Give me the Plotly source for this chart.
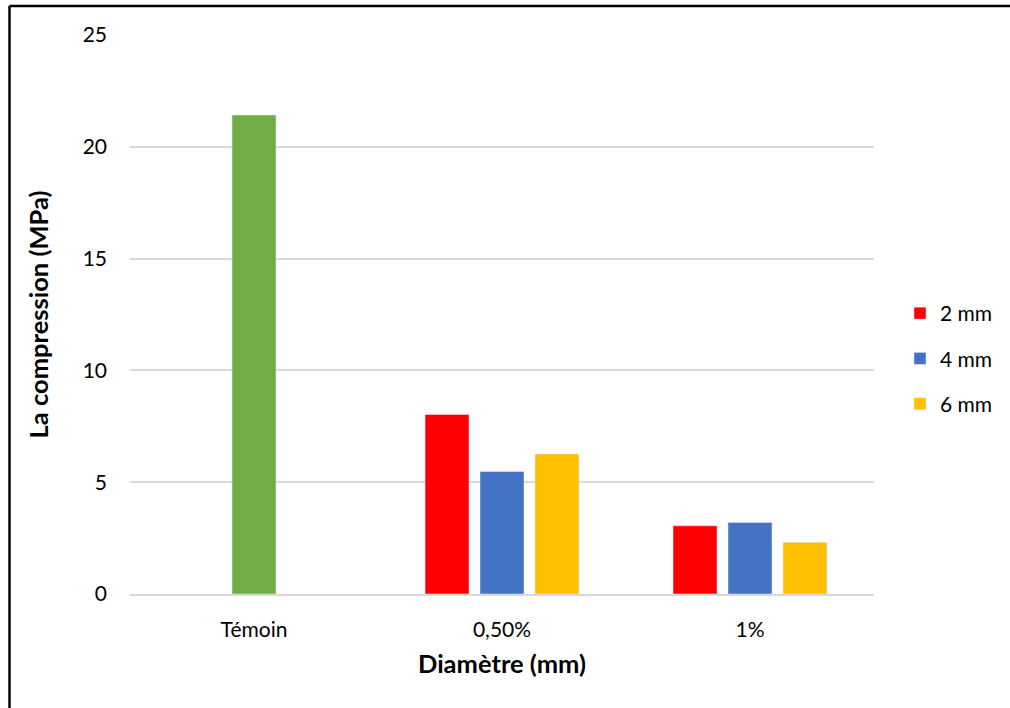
import plotly.graph_objects as go

# Categories and measured compressive strength (MPa)
categories = ["Témoin", "0,50%", "1%"]
control_value = [21.42, None, None]
strength_2mm = [None, 8.03, 3.05]
strength_4mm = [None, 5.48, 3.20]
strength_6mm = [None, 6.26, 2.31]
series_names = ["2 mm", "4 mm", "6 mm"]
y_ticks = [0, 5, 10, 15, 20, 25]

W, H = 1010, 708
L, R, T, B = 130, 136, 35, 114
FONT = "Lato"

fig = go.Figure()
fig.add_bar(x=categories, y=strength_2mm, name=series_names[0],
            marker_color="#FF0000", offsetgroup="a", legendgroup="a")
fig.add_bar(x=categories, y=strength_4mm, name=series_names[1],
            marker_color="#4472C4", offsetgroup="b", legendgroup="b")
fig.add_bar(x=categories, y=strength_6mm, name=series_names[2],
            marker_color="#FFC000", offsetgroup="c", legendgroup="c")
# control specimen drawn in the middle slot, without a legend entry
fig.add_bar(x=categories, y=control_value, name="Témoin", showlegend=False,
            marker_color="#70AD47", offsetgroup="b")

pw = W - L - R
ph = H - T - B


def px_x(p):
    return (p - L) / pw


def px_y(p):
    return (H - B - p) / ph


# chart frame (left and top edges)
fig.add_shape(type="line", xref="paper", yref="paper",
              x0=px_x(9.5), x1=px_x(1015), y0=px_y(6), y1=px_y(6),
              line=dict(color="black", width=2.5))
fig.add_shape(type="line", xref="paper", yref="paper",
              x0=px_x(9.5), x1=px_x(9.5), y0=px_y(6), y1=px_y(712),
              line=dict(color="black", width=2.5))

fig.update_layout(
    width=W, height=H,
    margin=dict(l=L, r=R, t=T, b=B),
    paper_bgcolor="white", plot_bgcolor="white",
    barmode="group", bargap=0.335, bargroupgap=0.2,
    font=dict(family=FONT, size=21, color="#000000"),
    legend=dict(x=px_x(900), y=px_y(293), xanchor="left", yanchor="top",
                tracegroupgap=15, font=dict(size=21), bgcolor="rgba(0,0,0,0)"),
    xaxis=dict(showgrid=False, showline=True, linecolor="#D9D9D9", linewidth=1.5,
               ticks="", ticklabelstandoff=16,
               title=dict(text="<b>Diamètre (mm)</b>", font=dict(size=25.5), standoff=15)),
    yaxis=dict(range=[0, 25], tickvals=y_ticks, showgrid=True, gridcolor="#D9D9D9",
               gridwidth=1.5, zeroline=False, ticks="", ticklabelstandoff=22,
               title=dict(text="<b>La compression (MPa)</b>", font=dict(size=25.5), standoff=26)),
    showlegend=True,
)

fig.write_html("out.html")
